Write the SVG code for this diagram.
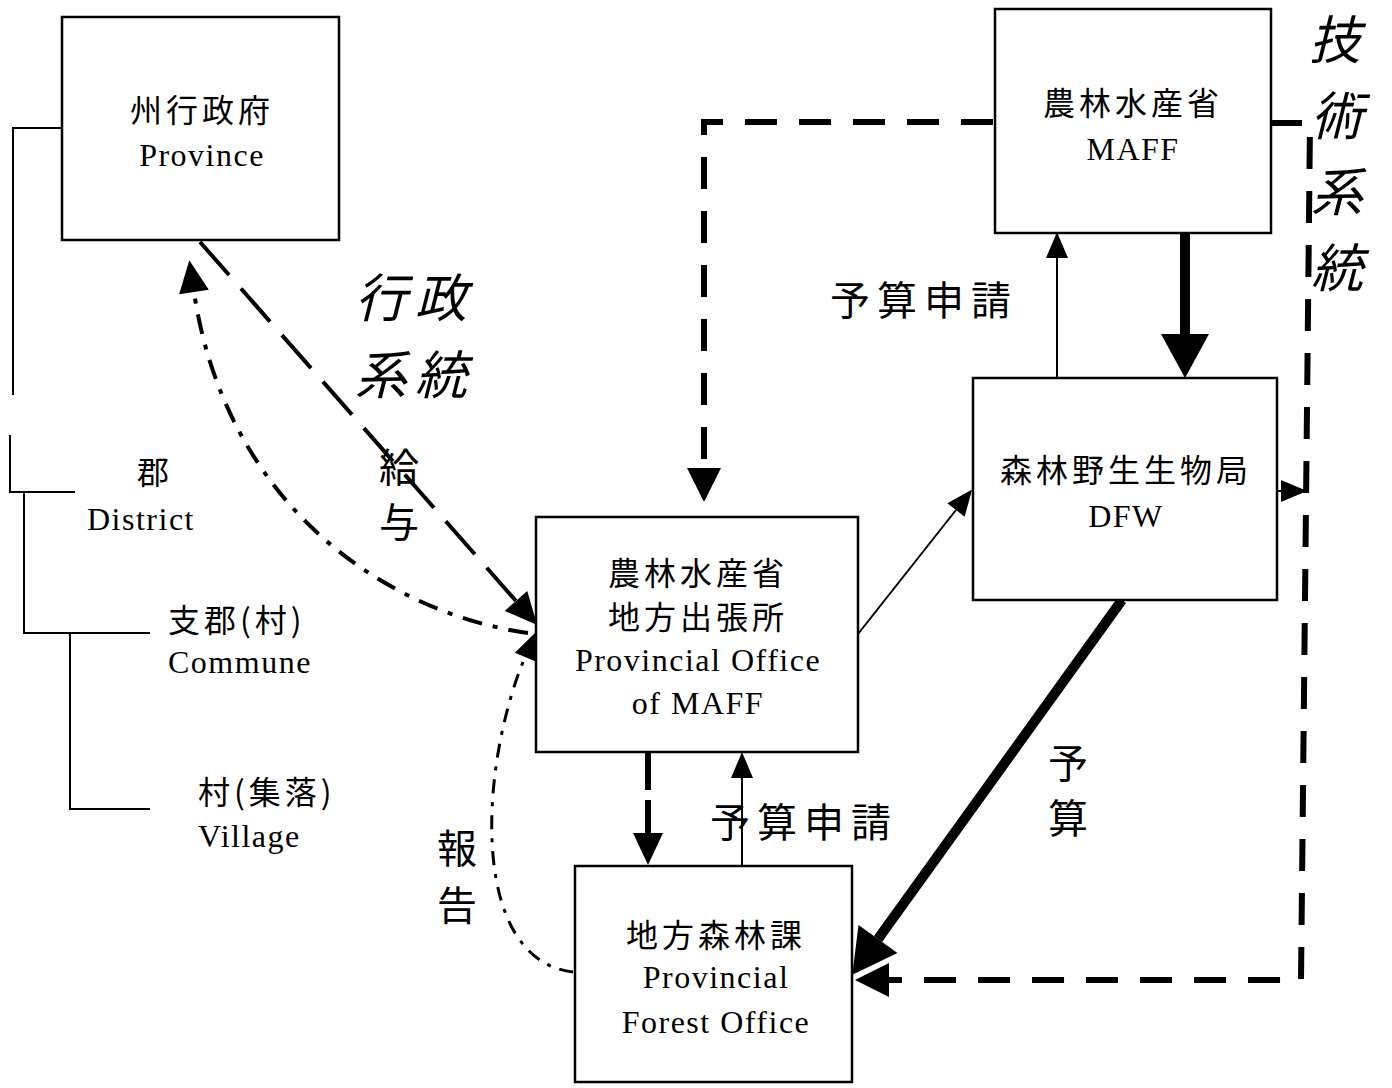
<svg xmlns="http://www.w3.org/2000/svg" width="1392" height="1088" viewBox="0 0 1392 1088">
<style>
.box{fill:#fff;stroke:#000;stroke-width:2.5}
.jp{font-family:"Noto Sans CJK JP","Noto Sans CJK SC",sans-serif;font-size:32px;letter-spacing:4px;fill:#000}
.en{font-family:"Liberation Serif",serif;font-size:32px;letter-spacing:1.5px;fill:#000}
.lbl{font-family:"Noto Sans CJK JP","Noto Sans CJK SC",sans-serif;font-size:40px;fill:#000}
.big{font-family:"Noto Sans CJK JP","Noto Sans CJK SC",sans-serif;font-size:52px;font-style:italic;fill:#000}
.c{text-anchor:middle}
.tree{fill:none;stroke:#000;stroke-width:2}
.conn path{fill:none;stroke:#000}
.thin{stroke-width:2}
.thick{stroke-width:10}
.dash{stroke-width:6;stroke-dasharray:32 22}
.ldash{stroke-width:4;stroke-dasharray:44 18}
.dd{stroke-width:4;stroke-dasharray:20 11 5 11}
.dd2{stroke-width:3;stroke-dasharray:14 9 4 9}
</style>
<defs>
<marker id="aBig" markerUnits="userSpaceOnUse" orient="auto" refX="0" refY="0" markerWidth="1" markerHeight="1" overflow="visible"><path d="M0,-24 L44,0 L0,24 z" fill="#000"/></marker>
<marker id="aMed" markerUnits="userSpaceOnUse" orient="auto" refX="0" refY="0" markerWidth="1" markerHeight="1" overflow="visible"><path d="M0,-17 L34,0 L0,17 z" fill="#000"/></marker>
<marker id="aDash" markerUnits="userSpaceOnUse" orient="auto" refX="0" refY="0" markerWidth="1" markerHeight="1" overflow="visible"><path d="M0,-15 L32,0 L0,15 z" fill="#000"/></marker>
<marker id="aSm" markerUnits="userSpaceOnUse" orient="auto" refX="0" refY="0" markerWidth="1" markerHeight="1" overflow="visible"><path d="M0,-11 L26,0 L0,11 z" fill="#000"/></marker>
</defs>
<rect width="1392" height="1088" fill="#fff"/>

<g id="hierarchy">
<path class="tree" d="M62,128 H13 V395"/>
<path class="tree" d="M10,435 V492 H75"/>
<path class="tree" d="M24,492 V633 H150"/>
<path class="tree" d="M70,633 V809 H150"/>
<text class="jp" x="137" y="484">郡</text>
<text class="en" x="87" y="530">District</text>
<text class="jp" x="168" y="632">支郡(村)</text>
<text class="en" x="168" y="673">Commune</text>
<text class="jp" x="198" y="804">村(集落)</text>
<text class="en" x="198" y="847">Village</text>
</g>

<g class="conn" id="connectors">
<path class="ldash" d="M200,242 L516,601" marker-end="url(#aDash)"/>
<path class="dd" d="M528,633 C380,612 225,500 194,292" marker-end="url(#aDash)"/>
<path class="dd2" d="M573,972 C470,960 478,770 525,657" marker-end="url(#aSm)"/>
<path class="dash" d="M993,122 H704 V468" marker-end="url(#aMed)"/>
<path class="dash" d="M1270,123 H1310 L1301,980 H889" marker-end="url(#aMed)"/>
<path class="thick" d="M1185,233 V334" marker-end="url(#aBig)"/>
<path class="thin" d="M1057,378 V258" marker-end="url(#aSm)"/>
<path class="thin" d="M858,634 L956,510" marker-end="url(#aSm)"/>
<path class="thick" d="M1122,600 L878,939" marker-end="url(#aBig)"/>
<path class="dash" style="stroke-dasharray:38 10" d="M648,752 V833" marker-end="url(#aDash)"/>
<path class="thin" d="M742,865 V778" marker-end="url(#aSm)"/>
<path class="thin" d="M1277,491 H1281" marker-end="url(#aSm)"/>
</g>

<g id="province">
<rect class="box" x="62" y="17" width="277" height="223"/>
<text class="jp c" x="202" y="122">州行政府</text>
<text class="en c" x="202" y="166">Province</text>
</g>

<g id="maff">
<rect class="box" x="995" y="9" width="276" height="224"/>
<text class="jp c" x="1133" y="115">農林水産省</text>
<text class="en c" x="1133" y="160">MAFF</text>
</g>

<g id="dfw">
<rect class="box" x="973" y="378" width="304" height="222"/>
<text class="jp c" x="1126" y="482">森林野生生物局</text>
<text class="en c" x="1126" y="527">DFW</text>
</g>

<g id="prov-office">
<rect class="box" x="536" y="517" width="322" height="235"/>
<text class="jp c" x="698" y="585">農林水産省</text>
<text class="jp c" x="698" y="629">地方出張所</text>
<text class="en c" x="698" y="671">Provincial Office</text>
<text class="en c" x="698" y="714">of MAFF</text>
</g>

<g id="forest-office">
<rect class="box" x="575" y="866" width="277" height="216"/>
<text class="jp c" x="716" y="947">地方森林課</text>
<text class="en c" x="716" y="988">Provincial</text>
<text class="en c" x="716" y="1033">Forest Office</text>
</g>

<g id="labels">
<text class="big" x="355" y="317" style="letter-spacing:8px">行政</text>
<text class="big" x="355" y="394" style="letter-spacing:8px">系統</text>
<text class="lbl c" x="399" y="482">給</text>
<text class="lbl c" x="399" y="537">与</text>
<text class="lbl c" x="457" y="863">報</text>
<text class="lbl c" x="457" y="920">告</text>
<text class="lbl" x="830" y="315" style="letter-spacing:7px">予算申請</text>
<text class="lbl" x="710" y="837" style="letter-spacing:7px">予算申請</text>
<text class="lbl c" x="1068" y="778">予</text>
<text class="lbl c" x="1068" y="833">算</text>
<text class="big c" x="1335" y="59">技</text>
<text class="big c" x="1337" y="135">術</text>
<text class="big c" x="1337" y="211">系</text>
<text class="big c" x="1337" y="287">統</text>
</g>
</svg>
